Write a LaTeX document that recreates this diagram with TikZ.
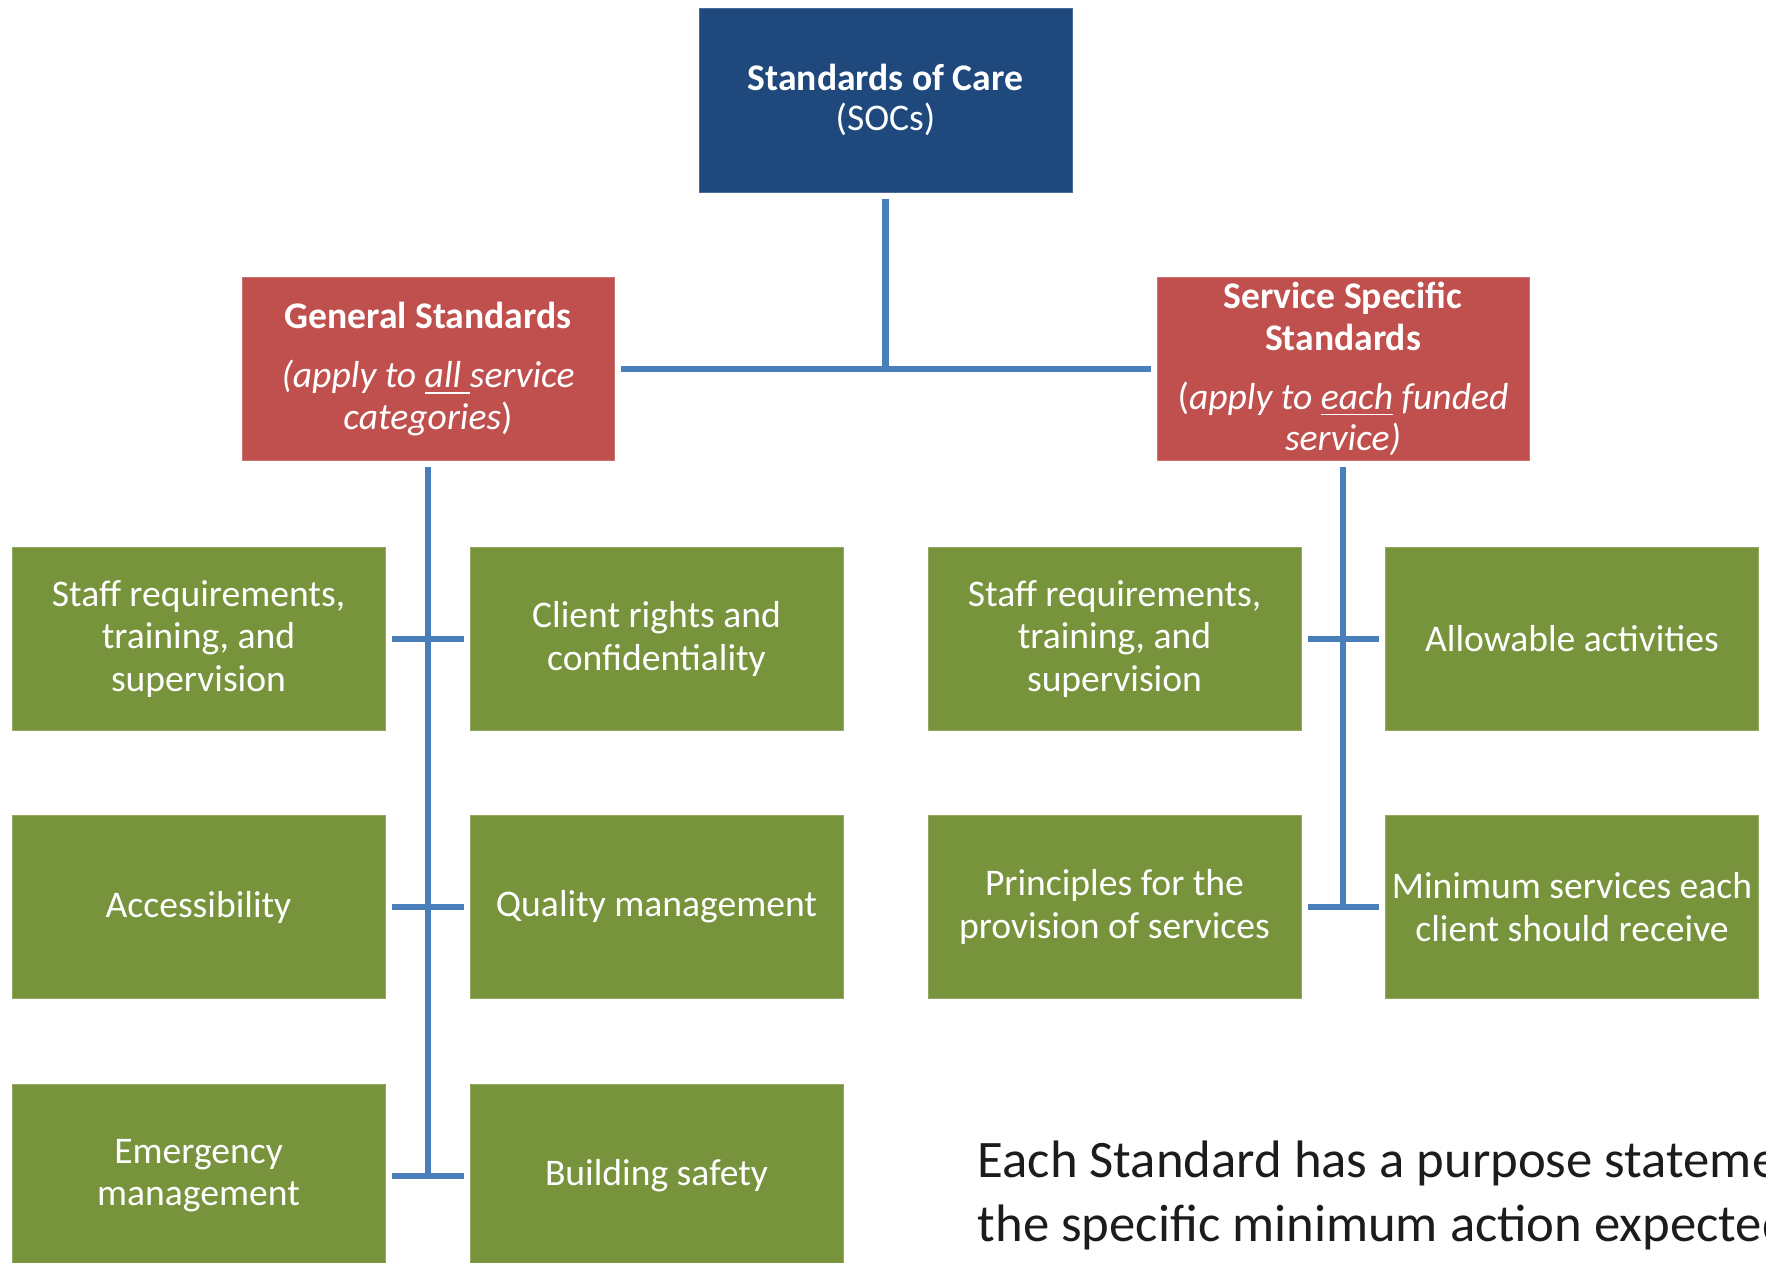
\documentclass[tikz,border=0pt]{standalone}
\usepackage{fontspec}
\setmainfont{Carlito}
\definecolor{cSoc}{HTML}{1F497D}
\definecolor{cRed}{HTML}{C0504D}
\definecolor{cGreen}{HTML}{77933C}
\definecolor{cLine}{HTML}{4A7EBB}
\definecolor{cText}{HTML}{1C1C1C}
\tikzset{
  box/.style={inner sep=0pt, align=center, text=white, line width=0.1mm,
    font=\fontsize{10.7pt}{12pt}\selectfont},
  socbox/.style={box, fill=cSoc, draw=cSoc!80!white, minimum width=37.3mm, minimum height=18.4mm,
    font=\fontsize{10.7pt}{11.4pt}\selectfont},
  redbox/.style={box, fill=cRed, draw=cRed!80!white, minimum width=37.2mm, minimum height=18.3mm,
    font=\fontsize{10.7pt}{11.8pt}\selectfont},
  grbox/.style={box, fill=cGreen, draw=cGreen!80!white, minimum width=37.3mm, minimum height=18.3mm},
  conn/.style={draw=cLine, line width=0.68mm},
  note/.style={anchor=base west, inner sep=0pt, text=cText,
    font=\fontsize{15pt}{18pt}\selectfont}
}
\begin{document}
\begin{tikzpicture}[x=0.1mm, y=-0.1mm]
\path[use as bounding box] (0,0) rectangle (1766,1262);
\clip (0,0) rectangle (1766,1262);
\fill[white] (0,0) rectangle (1766,1262);

% top
\node[socbox] (soc) at (885.5,100) {\textbf{Standards of Care}\\(SOCs)};

% second level
\node[redbox] (gen) at (428,369) {\textbf{General Standards}\\[5pt]\textit{(apply to \underline{all }service}\\\textit{categories})};
\node[redbox] (svc) at (1343,369) {\textbf{Service Specific}\\\textbf{Standards}\\[5pt](\textit{apply to \underline{each} funded}\\\textit{service)}};

% green boxes
\node[grbox] (a1) at (198.5,639) {Staff requirements,\\training, and\\supervision};
\node[grbox] (a2) at (656.5,639) {Client rights and\\confidentiality};
\node[grbox] (b1) at (198.5,907) {Accessibility};
\node[grbox] (b2) at (656.5,907) {Quality management};
\node[grbox] (c1) at (198.5,1176) {Emergency\\management};
\node[grbox] (c2) at (656.5,1176) {Building safety};

\node[grbox] (a3) at (1114.5,639) {Staff requirements,\\training, and\\supervision};
\node[grbox] (a4) at (1572,639) {Allowable activities};
\node[grbox] (b3) at (1114.5,907) {Principles for the\\provision of services};
\node[grbox] (b4) at (1572,907) {Minimum services each\\client should receive};

% connectors
\draw[conn] ([yshift=-0.6mm]soc.south) -- (soc.south |- gen.east);
\draw[conn] ([xshift=0.6mm]gen.east) -- ([xshift=-0.6mm]svc.west);

\draw[conn] ([yshift=-0.6mm]gen.south) -- (gen.south |- c1.east);
\draw[conn] ([xshift=0.6mm]a1.east) -- ([xshift=-0.6mm]a2.west);
\draw[conn] ([xshift=0.6mm]b1.east) -- ([xshift=-0.6mm]b2.west);
\draw[conn] ([xshift=0.6mm]c1.east) -- ([xshift=-0.6mm]c2.west);

\draw[conn] ([yshift=-0.6mm]svc.south) -- (svc.south |- b3.east);
\draw[conn] ([xshift=0.6mm]a3.east) -- ([xshift=-0.6mm]a4.west);
\draw[conn] ([xshift=0.6mm]b3.east) -- ([xshift=-0.6mm]b4.west);

% note
\node[note] (n1) at (977,1177) {Each Standard has a purpose statement};
\node[note] (n2) at (977,1241) {the specific minimum action expected};
\end{tikzpicture}
\end{document}
